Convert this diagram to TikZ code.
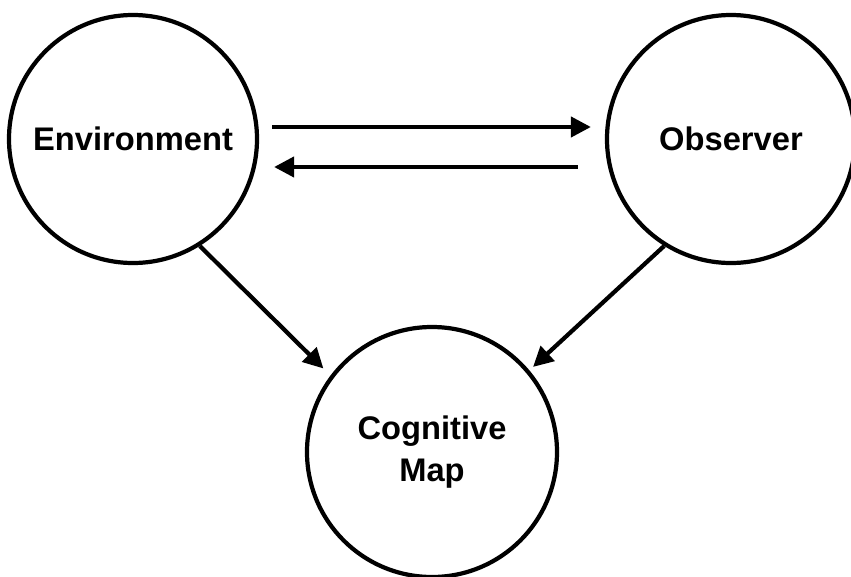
\documentclass[tikz,border=0pt]{standalone}
\usepackage{fontspec}
\setmainfont{Liberation Sans}
\usetikzlibrary{arrows.meta}
\tikzset{
  place/.style={circle, draw, line width=2.4pt, minimum size=4.96cm, inner sep=0pt,
    font=\fontsize{18.6}{24}\selectfont\bfseries, align=center},
  flow/.style={->, line width=2.4pt}
}
\begin{document}
\begin{tikzpicture}[>={Triangle[length=0.4cm,width=0.4cm]}]
\useasboundingbox (0,0) rectangle (17.02,-11.54);
\node[place] (env) at (2.66,-2.78) {Environment};
\node[place] (obs) at (14.62,-2.78) {Observer};
\node[place, minimum size=5cm] (cog) at (8.64,-9.04) {Cognitive\\Map};
% between environment and observer
\draw[flow] ([xshift=0.26cm,yshift=0.24cm]env.east) -- ([xshift=-0.28cm,yshift=0.24cm]obs.west);
\draw[flow] ([xshift=-0.54cm,yshift=-0.56cm]obs.west) -- ([xshift=0.3cm,yshift=-0.56cm]env.east);
% down to the map
\draw[flow, shorten >=0.2cm] (env.-58) -- (cog.143);
\draw[flow, shorten >=0.1cm] (obs.238) -- (cog.40);
\end{tikzpicture}
\end{document}
